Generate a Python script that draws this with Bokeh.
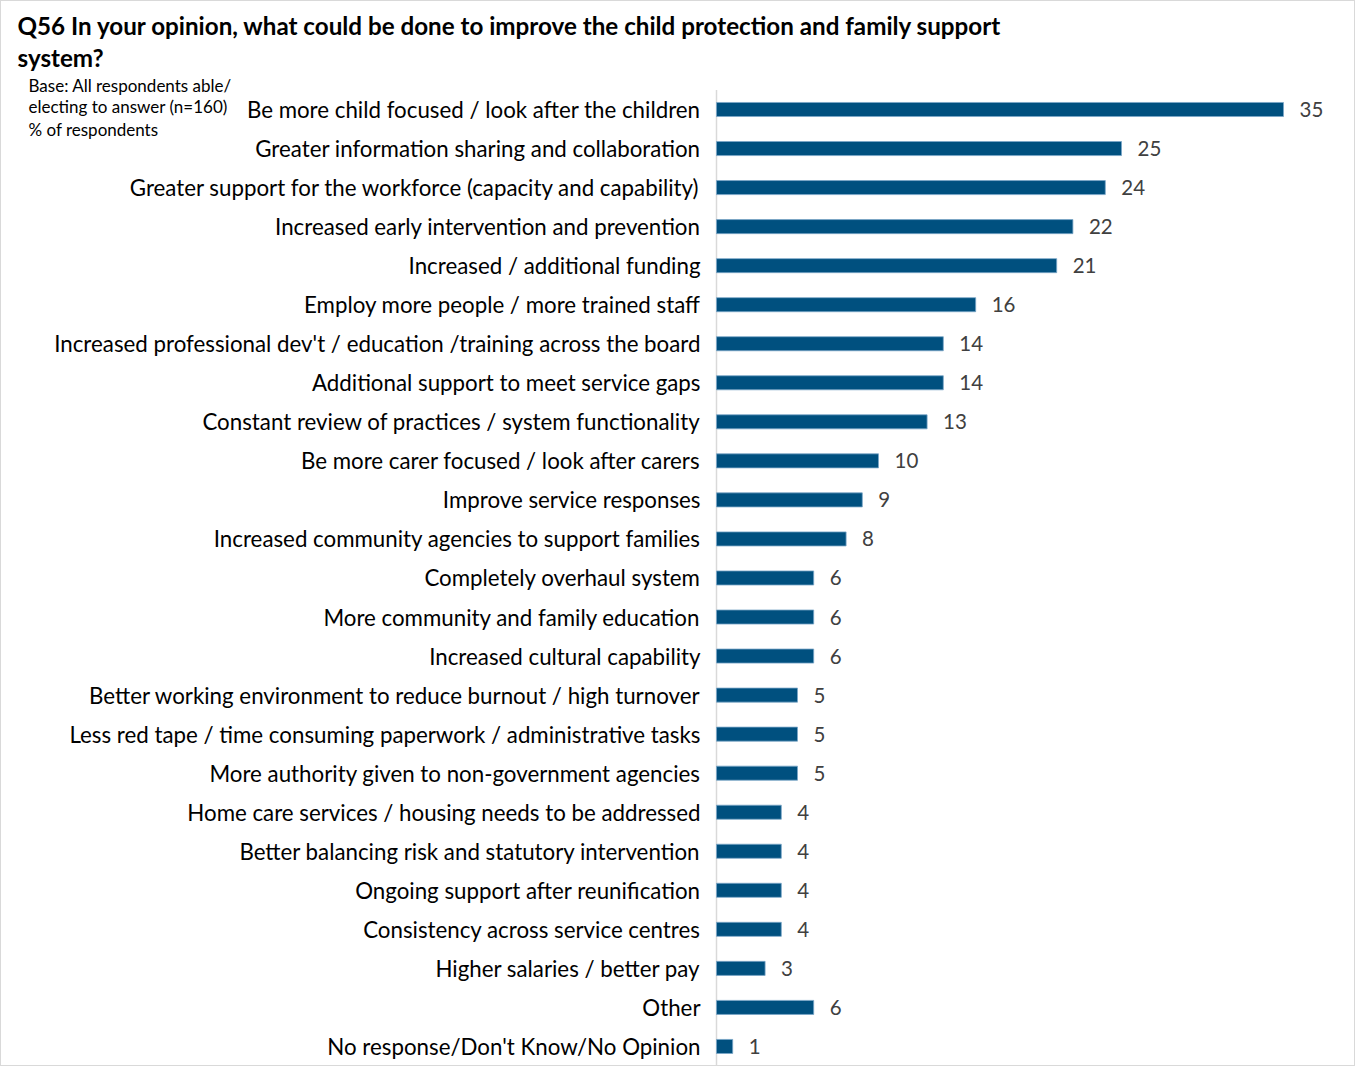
from bokeh.plotting import figure
from bokeh.models import Range1d, ColumnDataSource
from bokeh.embed import file_html
from bokeh.resources import INLINE
from bokeh.core.properties import value

categories = [
    "Be more child focused / look after the children",
    "Greater information sharing and collaboration",
    "Greater support for the workforce (capacity and capability)",
    "Increased early intervention and prevention",
    "Increased / additional funding",
    "Employ more people / more trained staff",
    "Increased professional dev't / education /training across the board",
    "Additional support to meet service gaps",
    "Constant review of practices / system functionality",
    "Be more carer focused / look after carers",
    "Improve service responses",
    "Increased community agencies to support families",
    "Completely overhaul system",
    "More community and family education",
    "Increased cultural capability",
    "Better working environment to reduce burnout / high turnover",
    "Less red tape / time consuming paperwork / administrative tasks",
    "More authority given to non-government agencies",
    "Home care services / housing needs to be addressed",
    "Better balancing risk and statutory intervention",
    "Ongoing support after reunification",
    "Consistency across service centres",
    "Higher salaries / better pay",
    "Other",
    "No response/Don't Know/No Opinion",
]
values = [35, 25, 24, 22, 21, 16, 14, 14, 13, 10, 9, 8, 6, 6, 6, 5, 5, 5, 4, 4, 4, 4, 3, 6, 1]

title_lines = [
    "Q56 In your opinion, what could be done to improve the child protection and family support",
    "system?",
]
base_lines = [
    "Base: All respondents able/",
    "electing to answer (n=160)",
    "% of respondents",
]

FONT = "Lato"
W, H = 1355, 1066

# layout (canvas pixels)
AXIS_X = 715          # canvas x of value 0
PX_PER_UNIT = 16.2    # pixels per percentage point
ROW0_Y = 108          # canvas y of first row centre
ROW_H = 39.04         # row pitch


def xpx(px):
    return (px - AXIS_X) / PX_PER_UNIT


def ypx(py):
    return (py - ROW0_Y) / ROW_H


n = len(categories)
rows = list(range(n))

source = ColumnDataSource(dict(row=rows, cat=categories, val=values,
                               lab=[str(v) for v in values], zero=[0] * n))

p = figure(
    width=W, height=H,
    x_range=Range1d(xpx(0), xpx(W)),
    y_range=Range1d(ypx(H), ypx(0)),
    output_backend="svg", toolbar_location=None,
    min_border=0,
    styles={"border": "1px solid #d9d9d9"},
)
p.axis.visible = False
p.grid.grid_line_color = None
p.outline_line_color = None

# axis line
p.segment(x0=[0], y0=[-0.5], x1=[0], y1=[n - 0.5], line_color="#d9d9d9", line_width=1.5)

# bars
p.hbar(y="row", right="val", left="zero", height=0.36, source=source,
       fill_color="#00507f", line_color="#7aa6c8", line_width=0.8)

# category labels
p.text(x="zero", y="row", text="cat", source=source, x_offset=-16,
       text_baseline="middle", text_align="right",
       text_font=value(FONT), text_font_size="22.3px", text_color="#000000")

# value labels
p.text(x="val", y="row", text="lab", source=source, x_offset=16,
       text_baseline="middle", text_align="left",
       text_font=value(FONT), text_font_size="20.5px", text_color="#404040")

# title
p.text(x=[xpx(16)] * len(title_lines), y=[ypx(24), ypx(56)], text=title_lines,
       text_baseline="middle", text_align="left",
       text_font=value(FONT), text_font_size="24.2px", text_font_style="bold",
       text_color="#000000")

# base note
p.text(x=[xpx(27)] * len(base_lines), y=[ypx(84), ypx(105), ypx(128)], text=base_lines,
       text_baseline="middle", text_align="left",
       text_font=value(FONT), text_font_size="17px", text_color="#000000")

open("out.html", "w").write(file_html(p, INLINE))
